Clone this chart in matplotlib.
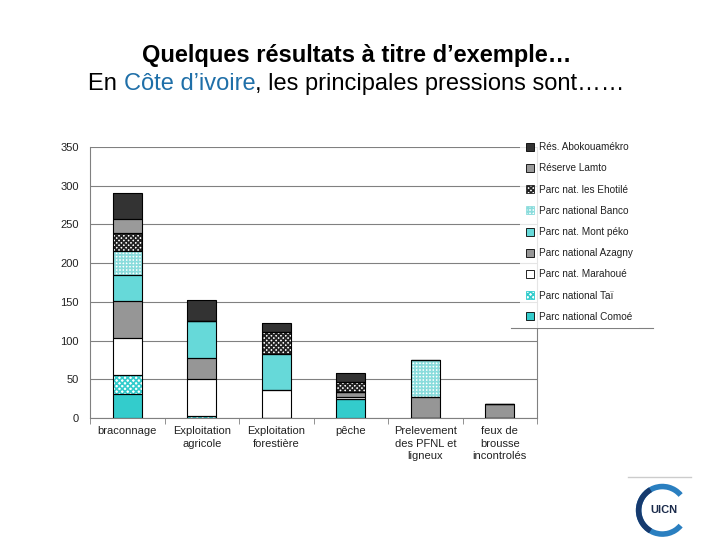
import numpy as np
import matplotlib
matplotlib.use("Agg")
import matplotlib.pyplot as plt
from matplotlib.patches import Patch, Arc
from matplotlib.lines import Line2D

plt.rcParams['font.family'] = ['Liberation Sans', 'DejaVu Sans']
plt.rcParams['hatch.linewidth'] = 1.2

# categories (axe x)
categories = ["braconnage", "Exploitation\nagricole", "Exploitation\nforestière",
              "pêche", "Prelevement\ndes PFNL et\nligneux", "feux de\nbrousse\nincontrolés"]

# series, du bas vers le haut de la pile
comoe    = [31, 0, 0, 24, 0, 0]
tai      = [24, 3, 0, 0, 0, 0]
marahoue = [48, 47, 36, 3, 0, 0]
azagny   = [48, 27, 0, 6, 27, 18]
montpeko = [33, 48, 47, 0, 0, 0]
banco    = [32, 0, 0, 0, 48, 0]
ehotile  = [23, 0, 28, 13, 0, 0]
lamto    = [18, 0, 0, 0, 0, 0]
abokouamekro = [33, 27, 12, 12, 0, 0]

series = [
    ("Parc national Comoé", comoe, "#33cccc", None, None),
    ("Parc national Taï", tai, "white", "xxxxxx", "#33cccc"),
    ("Parc nat. Marahoué", marahoue, "white", None, None),
    ("Parc national Azagny", azagny, "#969696", None, None),
    ("Parc nat. Mont péko", montpeko, "#66d9d9", None, None),
    ("Parc national Banco", banco, "white", "+++++", "#8adcdc"),
    ("Parc nat. les Ehotilé", ehotile, "white", "xxxxxxx", "#222222"),
    ("Réserve Lamto", lamto, "#9a9a9a", None, None),
    ("Rés. Abokouamékro", abokouamekro, "#333333", None, None),
]

fig = plt.figure(figsize=(7.2, 5.4), dpi=100)
ax = fig.add_axes([0.125, 0.226, 0.621, 0.502])

x = np.arange(len(categories))
width = 0.39
bottom = np.zeros(len(categories))
handles = []
for name, vals, fc, hatch, hc in series:
    vals = np.array(vals, dtype=float)
    if hatch:
        ax.bar(x, vals, width, bottom=bottom, facecolor=fc, hatch=hatch,
               edgecolor=hc, linewidth=0, zorder=2)
    else:
        ax.bar(x, vals, width, bottom=bottom, facecolor=fc, linewidth=0, zorder=2)
    ax.bar(x, vals, width, bottom=bottom, fill=False, edgecolor="black",
           linewidth=0.8, zorder=3)
    if hatch:
        handles.append(Patch(facecolor=fc, hatch=hatch, edgecolor=hc, linewidth=0.6))
    else:
        handles.append(Patch(facecolor=fc, edgecolor="black", linewidth=0.6))
    bottom += vals

ax.set_xlim(-0.5, len(categories) - 0.5)
ax.set_ylim(0, 350)
ax.set_yticks(range(0, 351, 50))
ax.yaxis.grid(True, color="#808080", linewidth=0.8, zorder=0)
ax.set_axisbelow(True)
ax.set_xticks(x)
ax.set_xticklabels(categories, fontsize=8, color="#222222", linespacing=1.3)
ax.set_xticks(np.arange(-0.5, len(categories)), minor=True)
ax.tick_params(axis="x", which="major", length=0, pad=6)
ax.tick_params(axis="x", which="minor", length=4, color="#808080")
ax.tick_params(axis="y", length=0, labelsize=8, labelcolor="#222222", pad=8)
for side in ["left", "bottom", "right"]:
    ax.spines[side].set_color("#808080")
ax.spines["top"].set_visible(False)

leg = fig.legend(handles[::-1], [s[0] for s in series][::-1],
                 loc="upper left", bbox_to_anchor=(0.715, 0.757),
                 fontsize=7.2, frameon=True, handlelength=0.85, handleheight=0.85,
                 handletextpad=0.5, labelspacing=1.12, borderpad=0.6,
                 fancybox=False)
leg.get_frame().set_facecolor("white")
leg.get_frame().set_edgecolor("none")
for t in leg.get_texts():
    t.set_color("#222222")
fig.add_artist(Line2D([0.71, 0.907], [0.392, 0.392], color="#808080", linewidth=0.8))

# titre
fig.text(0.495, 0.898, "Quelques résultats à titre d’exemple…", ha="center", va="center",
         fontsize=17, fontweight="bold")
t1 = fig.text(0.495, 0.845, "En Côte d’ivoire, les principales pressions sont……",
              ha="center", va="center", fontsize=17, alpha=0)
fig.canvas.draw()
bb = t1.get_window_extent()
inv = fig.transFigure.inverted()
x0 = inv.transform((bb.x0, bb.y0))[0]
t1.remove()
parts = [("En ", "black"), ("Côte d’ivoire", "#1f6fa8"),
         (", les principales pressions sont……", "black")]
xc = x0
for txt, col in parts:
    tt = fig.text(xc, 0.845, txt, ha="left", va="center", fontsize=17, color=col)
    fig.canvas.draw()
    e = tt.get_window_extent()
    xc = inv.transform((e.x1, e.y0))[0]

# logo UICN
fig.add_artist(Line2D([0.872, 0.96], [0.117, 0.117], color="#cccccc", linewidth=1))
logo = fig.add_axes([0.875, 0.0, 0.09, 0.11])
logo.set_xlim(-1, 1)
logo.set_ylim(-1, 1)
logo.set_aspect("equal")
logo.axis("off")
logo.add_patch(Arc((0, 0), 1.6, 1.6, theta1=40, theta2=320, linewidth=4, color="#2a7fc0"))
logo.add_patch(Arc((0, 0), 1.6, 1.6, theta1=120, theta2=240, linewidth=4, color="#163a6e"))
logo.text(0.05, 0, "UICN", ha="center", va="center", fontsize=8, fontweight="bold",
          color="#1a2a4a")

fig.savefig("out.png", dpi=100)
